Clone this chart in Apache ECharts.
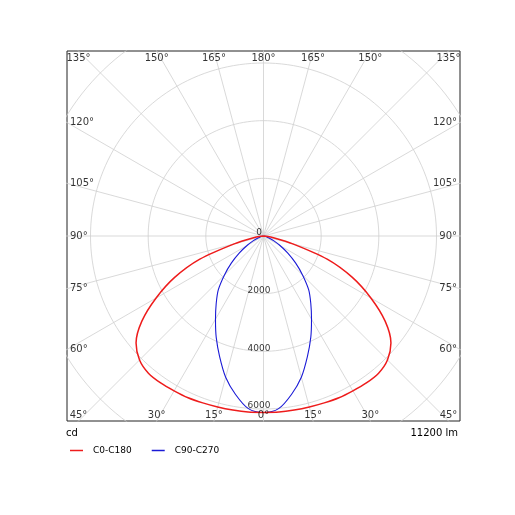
<!DOCTYPE html>
<html>
<head>
<meta charset="utf-8">
<script src="https://cdn.jsdelivr.net/npm/echarts@6/dist/echarts.min.js"></script>
<style>
html, body { margin: 0; padding: 0; background: #fff; }
#polarChart { width: 515px; height: 515px; }
</style>
</head>
<body>
<div id="polarChart"></div>
<script>
// gamma angles (degrees from nadir) and intensities in cd
var gammaAngles = [0, 5, 10, 15, 20, 25, 30, 35, 40, 45, 50, 55, 60, 65, 70, 75, 80, 85, 90];
var c0c180 = [6120, 6130, 6130, 6140, 6160, 6190, 6200, 6220, 6210, 6080, 5770, 5150, 4300, 3400, 2350, 1050, 350, 80, 0];
var c90c270 = [6120, 6010, 5580, 5070, 4450, 3880, 3330, 2860, 2440, 1920, 1450, 1020, 660, 400, 220, 120, 60, 20, 0];
var seriesNames = ['C0-C180', 'C90-C270'];
var seriesColors = ['#ee1c1c', '#1a1ad6'];

// grid: circles every 2000 cd, radial lines every 15 degrees
var ringValues = [2000, 4000, 6000, 8000, 10000];
var ringLabels = ['0', '2000', '4000', '6000'];
var angleTicks = [0, 15, 30, 45, 60, 75, 90, 105, 120, 135, 150, 165, 180];
var lumenText = '11200 lm';
var unitText = 'cd';

var XR = 6815, YR = 6416; // half ranges of the frame, in cd
var FONT = 'DejaVu Sans';
var rad = Math.PI / 180;

var myChart = echarts.init(document.getElementById('polarChart'));

// polar -> cartesian (nadir points down)
function toXY(r, g, side) {
	return [side * r * Math.sin(g * rad), -r * Math.cos(g * rad)];
}

// one curve: left half from 90 to 0, right half from 0 to 90
function curveData(vals) {
	var pts = [];
	for (var i = gammaAngles.length - 1; i >= 0; i--) pts.push(toXY(vals[i], gammaAngles[i], -1));
	for (var j = 1; j < gammaAngles.length; j++) pts.push(toXY(vals[j], gammaAngles[j], 1));
	return pts;
}

var gridStyle = { color: '#cfcfcf', width: 0.8 };
var series = [];

// rings
ringValues.forEach(function(r) {
	var pts = [];
	for (var a = 0; a <= 360; a += 2) pts.push([r * Math.cos(a * rad), r * Math.sin(a * rad)]);
	series.push({ type: 'line', data: pts, showSymbol: false, silent: true, z: 1,
		lineStyle: gridStyle, animation: false });
});

// radial lines
angleTicks.forEach(function(g) {
	[-1, 1].forEach(function(s) {
		if ((g === 0 || g === 180) && s < 0) return;
		series.push({ type: 'line', data: [[0, 0], toXY(12000, g, s)], showSymbol: false,
			silent: true, z: 1, lineStyle: gridStyle, animation: false });
	});
});

// measured curves
series.push({ name: seriesNames[0], type: 'line', data: curveData(c0c180), smooth: 0.3,
	showSymbol: false, z: 4, lineStyle: { color: seriesColors[0], width: 1.5 },
	itemStyle: { color: seriesColors[0] }, animation: false });
series.push({ name: seriesNames[1], type: 'line', data: curveData(c90c270), smooth: 0.3,
	showSymbol: false, z: 3, lineStyle: { color: seriesColors[1], width: 1.1 },
	itemStyle: { color: seriesColors[1] }, animation: false });

// angle labels on the frame edges
var angleLabelData = [];
angleTicks.forEach(function(g) {
	[-1, 1].forEach(function(s) {
		if ((g === 0 || g === 180) && s < 0) return;
		var sg = Math.sin(g * rad), cg = Math.cos(g * rad);
		var tX = sg > 1e-9 ? XR / sg : Infinity;
		var tY = Math.abs(cg) > 1e-9 ? YR / Math.abs(cg) : Infinity;
		var item;
		if (tX < tY) {
			item = { value: [s * XR, -cg * tX], label: { align: s < 0 ? 'left' : 'right',
				verticalAlign: 'middle', offset: [s < 0 ? 3 : -3, 0] } };
		} else {
			item = { value: [s * sg * tY, cg > 0 ? -YR : YR], label: { align: 'center',
				verticalAlign: cg > 0 ? 'bottom' : 'top', offset: [0, cg > 0 ? -1 : 2] } };
		}
		item.name = g + '°';
		angleLabelData.push(item);
	});
});
series.push({ type: 'scatter', data: angleLabelData, symbolSize: 0, clip: false, silent: true, z: 6,
	label: { show: true, position: 'inside', formatter: '{b}', color: '#000', fontSize: 10, fontFamily: FONT },
	animation: false });

// radius labels along the nadir line
var ringLabelData = ringLabels.map(function(t) {
	return { name: t, value: [0, -Number(t)] };
});
series.push({ type: 'scatter', data: ringLabelData, symbolSize: 0, clip: false, silent: true, z: 6,
	label: { show: true, position: 'inside', formatter: '{b}', color: '#000', fontSize: 9,
		fontFamily: FONT, align: 'center', verticalAlign: 'middle', offset: [-4.5, -3] },
	animation: false });

var option = {
	backgroundColor: '#fff',
	animation: false,
	grid: { left: 67, top: 51, width: 393, height: 370, show: true,
		borderColor: '#222', borderWidth: 1 },
	xAxis: { type: 'value', min: -XR, max: XR, show: false },
	yAxis: { type: 'value', min: -YR, max: YR, show: false },
	legend: {
		data: seriesNames, left: 65, top: 441, icon: 'rect', itemWidth: 13, itemHeight: 1.5,
		itemGap: 20, textStyle: { fontSize: 9, fontFamily: FONT, color: '#000', padding: [0, 0, 0, 5] }
	},
	graphic: [
		{ type: 'text', left: 66, top: 428, style: { text: unitText, font: '10px "DejaVu Sans"', fill: '#000' } },
		{ type: 'text', right: 57, top: 428, style: { text: lumenText, font: '10px "DejaVu Sans"', fill: '#000' } }
	],
	series: series
};

myChart.setOption(option);
</script>
</body>
</html>
